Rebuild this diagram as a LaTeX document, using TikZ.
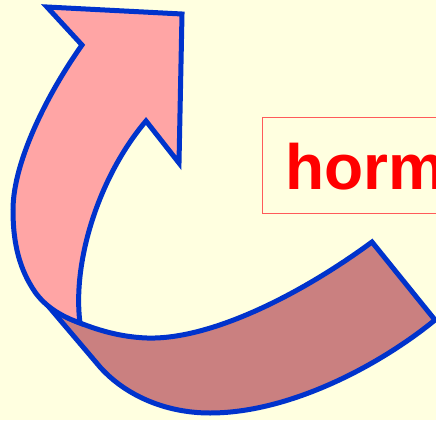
\documentclass[tikz,border=0pt]{standalone}
\usepackage{fontspec}
\setmainfont{Liberation Sans}
\definecolor{bgyellow}{HTML}{FFFFE0}
\definecolor{arrowpink}{HTML}{FFA5A5}
\definecolor{banddark}{HTML}{CA8080}
\definecolor{edgeblue}{HTML}{0033CC}
\definecolor{boxred}{HTML}{FF5A5A}
\definecolor{textred}{HTML}{FF0000}
\tikzset{
  shapeline/.style={draw=edgeblue, line width=5pt, line join=miter},
  labelbox/.style={draw=boxred, line width=1pt},
  labeltext/.style={text=textred, font=\bfseries\fontsize{64}{64}\selectfont, inner sep=0pt}
}
\begin{document}
\begin{tikzpicture}[x=1pt,y=-1pt]
\fill[bgyellow] (0,0) rectangle (436,420);
\useasboundingbox (0,0) rectangle (436,420);
% lower band
\path[shapeline, fill=banddark]
  (38,294) -- (100,367)
  .. controls (125,395) and (165,413) .. (210,413)
  .. controls (290,413) and (380,365) .. (435,320)
  -- (372,242)
  .. controls (300,295) and (210,340) .. (147,338)
  .. controls (120,337) and (98,330) .. (80,323)
  .. controls (65,317) and (48,307) .. (38,294) -- cycle;
% upper arrow
\path[shapeline, fill=arrowpink]
  (82,45) -- (47,7) -- (182,14) -- (179,163) -- (146,121)
  .. controls (100,175) and (72,260) .. (80,323)
  .. controls (60,316) and (45,306) .. (35,292)
  .. controls (20,270) and (13,245) .. (13,210)
  .. controls (13,160) and (50,90) .. (82,45) -- cycle;
% label
\draw[labelbox] (262,117) rectangle (470,213);
\node[labeltext, anchor=base west] (lbl) at (285,189) {horm};
\end{tikzpicture}
\end{document}
